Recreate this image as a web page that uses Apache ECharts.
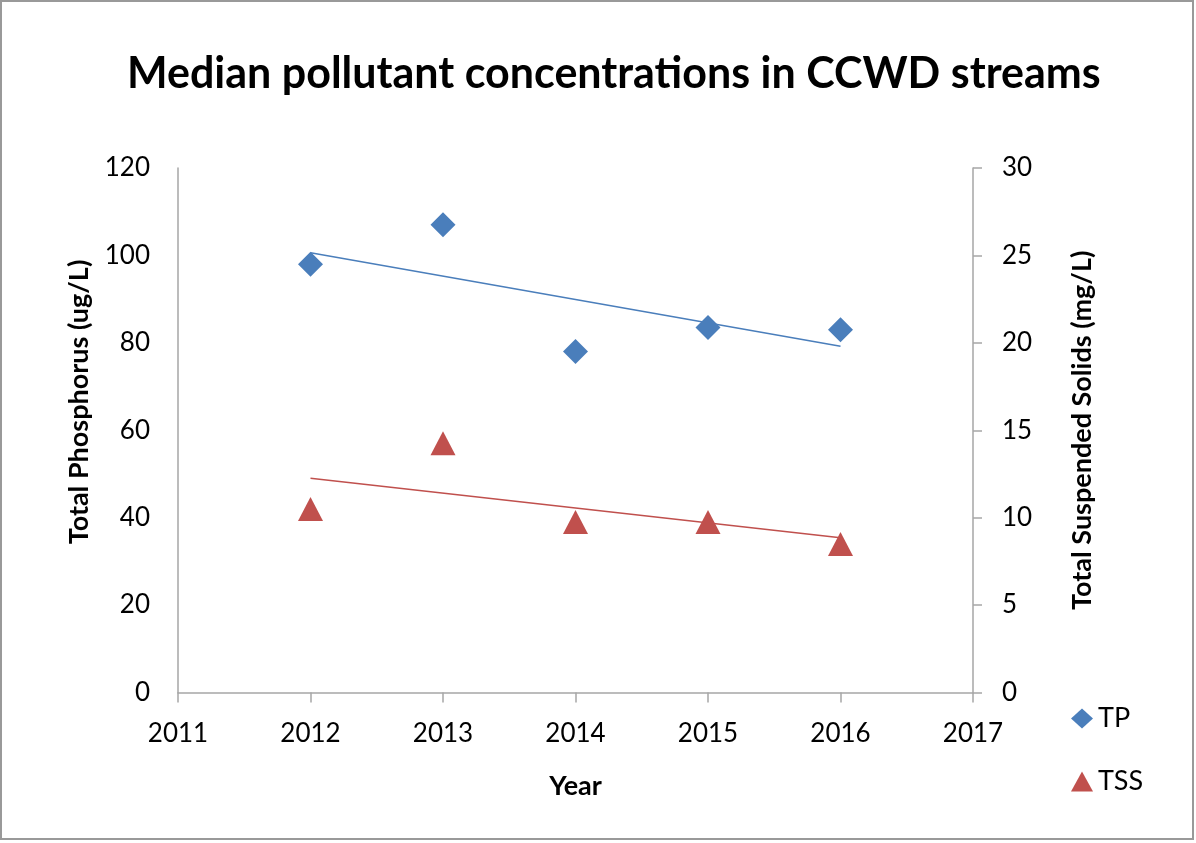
<!DOCTYPE html>
<html>
<head>
<meta charset="utf-8">
<script src="https://cdn.jsdelivr.net/npm/echarts@6/dist/echarts.min.js"></script>
<style>
html,body{margin:0;padding:0;background:#fff;}
#chart{width:1196px;height:843px;}
</style>
</head>
<body>
<div id="chart"></div>
<script>
// Data
const years = [2012, 2013, 2014, 2015, 2016];
const tpValues = [98, 107, 78, 83.5, 83];        // Total Phosphorus (ug/L)
const tssValues = [10.5, 14.25, 9.75, 9.75, 8.5]; // Total Suspended Solids (mg/L)
const xTicks = [2011, 2012, 2013, 2014, 2015, 2016, 2017];
const tpTicks = [0, 20, 40, 60, 80, 100, 120];
const tssTicks = [0, 5, 10, 15, 20, 25, 30];

// Linear trend lines (least squares) as in the original
function trend(xs, ys) {
  const n = xs.length;
  const mx = xs.reduce((a, b) => a + b, 0) / n;
  const my = ys.reduce((a, b) => a + b, 0) / n;
  let num = 0, den = 0;
  for (let i = 0; i < n; i++) { num += (xs[i] - mx) * (ys[i] - my); den += (xs[i] - mx) ** 2; }
  const s = num / den, b = my - s * mx;
  const x0 = xs[0], x1 = xs[n - 1];
  return [[x0, s * x0 + b], [x1, s * x1 + b]];
}

const FONT = 'Lato';
const BLUE = '#4a7ebb';
const RED = '#c0504d';
const AXIS = '#a6a6a6';

const chart = echarts.init(document.getElementById('chart'));
chart.setOption({
  animation: false,
  backgroundColor: '#ffffff',
  textStyle: { fontFamily: FONT },
  title: {
    text: 'Median pollutant concentrations in CCWD streams',
    left: 122,
    top: 48,
    textStyle: { fontFamily: FONT, fontSize: 43, fontWeight: 'bold', color: '#000' }
  },
  graphic: [{
    type: 'rect',
    shape: { x: 1, y: 1, width: 1192, height: 838 },
    style: { fill: 'none', stroke: '#999', lineWidth: 2 },
    silent: true, z: -1
  }, {
    type: 'text',
    x: 79, y: 402, rotation: Math.PI / 2,
    style: {
      text: 'Total Phosphorus (ug/L)',
      font: 'bold 27px Lato', fill: '#000',
      align: 'center', verticalAlign: 'middle'
    },
    silent: true
  }],
  legend: {
    orient: 'vertical',
    left: 1066,
    top: 700,
    itemGap: 36,
    itemWidth: 22,
    itemHeight: 20,
    data: [
      { name: 'TP', icon: 'diamond' },
      { name: 'TSS', icon: 'triangle' }
    ],
    textStyle: { fontFamily: FONT, fontSize: 27, color: '#000' }
  },
  grid: { left: 178, right: 223, top: 168, bottom: 150.5, containLabel: false },
  xAxis: {
    type: 'value',
    min: xTicks[0], max: xTicks[xTicks.length - 1], interval: 1,
    name: 'Year', nameLocation: 'middle', nameGap: 80,
    nameTextStyle: { fontFamily: FONT, fontSize: 27, fontWeight: 'bold', color: '#000' },
    axisLine: { lineStyle: { color: AXIS, width: 1.5 } },
    axisTick: { show: true, inside: false, length: 10, lineStyle: { color: AXIS, width: 1.5 } },
    axisLabel: { margin: 28, fontSize: 26, color: '#000', fontFamily: FONT, formatter: v => String(v) },
    splitLine: { show: false }
  },
  yAxis: [{
    type: 'value', position: 'left',
    min: tpTicks[0], max: tpTicks[tpTicks.length - 1], interval: 20,
    axisLine: { show: true, lineStyle: { color: AXIS, width: 1.5 } },
    axisTick: { show: false },
    axisLabel: { margin: 28, fontSize: 26, color: '#000', fontFamily: FONT },
    splitLine: { show: false }
  }, {
    type: 'value', position: 'right',
    min: tssTicks[0], max: tssTicks[tssTicks.length - 1], interval: 5,
    name: 'Total Suspended Solids (mg/L)', nameLocation: 'middle', nameGap: 96,
    nameTextStyle: { fontFamily: FONT, fontSize: 27, fontWeight: 'bold', color: '#000' },
    axisLine: { show: true, lineStyle: { color: AXIS, width: 1.5 } },
    axisTick: { show: true, inside: false, length: 9, lineStyle: { color: AXIS, width: 1.5 } },
    axisLabel: { margin: 29, fontSize: 26, color: '#000', fontFamily: FONT },
    splitLine: { show: false }
  }],
  series: [{
    name: 'TP', type: 'scatter', yAxisIndex: 0,
    symbol: 'diamond', symbolSize: 25,
    itemStyle: { color: BLUE, opacity: 1 },
    data: years.map((y, i) => [y, tpValues[i]]), z: 3
  }, {
    name: 'TSS', type: 'scatter', yAxisIndex: 1,
    symbol: 'triangle', symbolSize: [25, 24],
    itemStyle: { color: RED, opacity: 1 },
    data: years.map((y, i) => [y, tssValues[i]]), z: 3
  }, {
    name: 'TP trend', type: 'line', yAxisIndex: 0,
    showSymbol: false, symbol: 'none',
    lineStyle: { color: BLUE, width: 1.5 },
    data: trend(years, tpValues), z: 2
  }, {
    name: 'TSS trend', type: 'line', yAxisIndex: 1,
    showSymbol: false, symbol: 'none',
    lineStyle: { color: RED, width: 1.5 },
    data: trend(years, tssValues), z: 2
  }]
});
</script>
</body>
</html>
